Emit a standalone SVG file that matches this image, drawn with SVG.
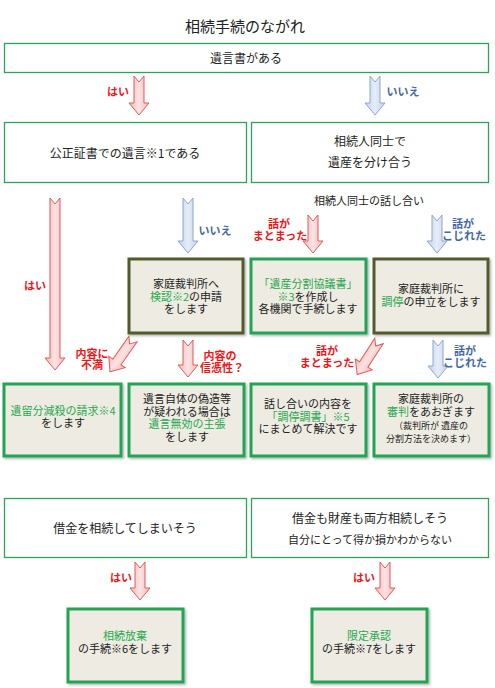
<svg xmlns="http://www.w3.org/2000/svg" width="495" height="688" viewBox="0 0 495 688">
<defs>
<linearGradient id="gr" x1="0" x2="1" y1="0" y2="0">
<stop offset="0" stop-color="#f5b9b9"/><stop offset="0.5" stop-color="#fbe3e3"/><stop offset="1" stop-color="#f5b9b9"/>
</linearGradient>
<linearGradient id="gb" x1="0" x2="1" y1="0" y2="0">
<stop offset="0" stop-color="#c4d3ea"/><stop offset="0.5" stop-color="#e6edf7"/><stop offset="1" stop-color="#c4d3ea"/>
</linearGradient>
<filter id="sh" x="-10%" y="-10%" width="130%" height="130%">
<feDropShadow dx="1.5" dy="1.5" stdDeviation="1.2" flood-color="#000" flood-opacity="0.3"/>
</filter>
</defs>
<style>
text{font-family:"Noto Sans CJK JP","Noto Sans CJK SC",sans-serif;fill:#222;text-anchor:middle;dominant-baseline:central}
.t15{font-size:15px}
.t12{font-size:12px}
.t11{font-size:11px}
.t9{font-size:9px}
.g{fill:#27a84f}
.lr{fill:#e8191b;font-weight:bold;font-size:11px}
.lb{fill:#4468a2;font-weight:bold;font-size:11px}
.box{fill:#fff;stroke:#2ba35a;stroke-width:1.3}
.bg{fill:#eeece2;stroke:#22a354;stroke-width:3;filter:url(#sh)}
.bo{fill:#eeece2;stroke:#515c2c;stroke-width:3;filter:url(#sh)}
.ar{fill:url(#gr);stroke:#e25a5a;stroke-width:1}
.ab{fill:url(#gb);stroke:#8ea7cc;stroke-width:1}
</style>
<rect width="495" height="688" fill="#fff"/>
<text class="t15" x="245" y="25">相続手続のながれ</text>

<g id="n1"><rect class="box" x="4.5" y="43.5" width="484" height="29"/><text class="t12" x="246" y="57">遺言書がある</text></g>
<g id="n2"><rect class="box" x="4.5" y="122.5" width="242" height="60"/><text class="t12" x="125" y="152">公正証書での遺言※1である</text></g>
<g id="n3"><rect class="box" x="251.5" y="122.5" width="237" height="60"/><text class="t12" x="370" y="140">相続人同士で</text><text class="t12" x="370" y="161">遺産を分け合う</text></g>
<text class="t11" x="369" y="200">相続人同士の話し合い</text>

<g id="n4"><rect class="bo" x="129" y="259" width="114" height="74"/>
<text class="t11" x="186" y="283">家庭裁判所へ</text>
<text class="t11" x="186" y="296"><tspan class="g">検認※2</tspan>の申請</text>
<text class="t11" x="186" y="308">をします</text></g>
<g id="n5"><rect class="bg" x="251" y="259" width="115" height="74"/>
<text class="t11 g" x="308" y="283">「遺産分割協議書」</text>
<text class="t11" x="308" y="296"><tspan class="g">※3</tspan>を作成し</text>
<text class="t11" x="308" y="308">各機関で手続します</text></g>
<g id="n6"><rect class="bo" x="374" y="259" width="114" height="74"/>
<text class="t11" x="431" y="288">家庭裁判所に</text>
<text class="t11" x="431" y="301"><tspan class="g">調停</tspan>の申立をします</text></g>

<g id="n7"><rect class="bg" x="4" y="384" width="117" height="72"/>
<text class="t11 g" x="63" y="410">遺留分減殺の請求※4</text>
<text class="t11" x="63" y="422">をします</text></g>
<g id="n8"><rect class="bg" x="129" y="384" width="115" height="72"/>
<text class="t11" x="187" y="398">遺言自体の偽造等</text>
<text class="t11" x="187" y="411">が疑われる場合は</text>
<text class="t11 g" x="187" y="423">遺言無効の主張</text>
<text class="t11" x="187" y="436">をします</text></g>
<g id="n9"><rect class="bg" x="251" y="384" width="115" height="72"/>
<text class="t11" x="308" y="403">話し合いの内容を</text>
<text class="t11 g" x="308" y="416">「調停調書」※5</text>
<text class="t11" x="308" y="428">にまとめて解決です</text></g>
<g id="n10"><rect class="bg" x="374" y="384" width="115" height="72"/>
<text class="t11" x="431" y="398">家庭裁判所の</text>
<text class="t11" x="431" y="411"><tspan class="g">審判</tspan>をあおぎます</text>
<text class="t9" x="431" y="425">（裁判所が 遺産の</text>
<text class="t9" x="431" y="438">分割方法を決めます）</text></g>

<g id="n11"><rect class="box" x="4.5" y="498.5" width="242" height="59"/><text class="t12" x="125" y="527">借金を相続してしまいそう</text></g>
<g id="n12"><rect class="box" x="251.5" y="498.5" width="237" height="59"/><text class="t12" x="370" y="517">借金も財産も両方相続しそう</text><text class="t11" x="370" y="539">自分にとって得か損かわからない</text></g>
<g id="n13"><rect class="bg" x="68" y="609" width="115" height="73"/>
<text class="t11 g" x="125" y="635">相続放棄</text>
<text class="t11" x="125" y="648">の手続※6をします</text></g>
<g id="n14"><rect class="bg" x="312" y="609" width="115" height="73"/>
<text class="t11 g" x="369" y="635">限定承認</text>
<text class="t11" x="369" y="648">の手続※7をします</text></g>

<g id="connectors">
<path class="ar" d="M134,76 L139,82 L144,76 L144,103 L149,103 L139,115 L129,103 L134,103 Z"/>
<text class="lr" x="118" y="91">はい</text>
<path class="ab" d="M370,76 L375,82 L380,76 L380,103 L385,103 L375,115 L365,103 L370,103 Z"/>
<text class="lb" x="403" y="91">いいえ</text>

<path class="ar" d="M50,198 L55,204 L60,198 L60,358 L65,358 L55,370 L45,358 L50,358 Z"/>
<text class="lr" x="35" y="285">はい</text>
<path class="ab" d="M183,198 L188,204 L193,198 L193,241 L198,241 L188,253 L178,241 L183,241 Z"/>
<text class="lb" x="215" y="230">いいえ</text>

<path class="ar" d="M308,215 L313,221 L318,215 L318,241 L323,241 L313,253 L303,241 L308,241 Z"/>
<text class="lr" x="279" y="223">話が</text><text class="lr" x="280" y="235">まとまった</text>
<path class="ab" d="M432,215 L437,221 L442,215 L442,241 L447,241 L437,253 L427,241 L432,241 Z"/>
<text class="lb" x="463" y="223">話が</text><text class="lb" x="464" y="235">こじれた</text>

<path class="ar" transform="translate(133,339) rotate(35)" d="M-5,0 L0,6 L5,0 L5,28 L10,28 L0,40 L-10,28 L-5,28 Z"/>
<text class="lr" x="92" y="353">内容に</text><text class="lr" x="92" y="364">不満</text>
<path class="ar" d="M183,340 L188,346 L193,340 L193,365 L198,365 L188,377 L178,365 L183,365 Z"/>
<text class="lr" x="220" y="355">内容の</text><text class="lr" x="222" y="367">信憑性？</text>

<path class="ar" transform="translate(379,341) rotate(33)" d="M-5,0 L0,6 L5,0 L5,28 L10,28 L0,40 L-10,28 L-5,28 Z"/>
<text class="lr" x="327" y="350">話が</text><text class="lr" x="327" y="362">まとまった</text>
<path class="ab" d="M433,340 L438,346 L443,340 L443,366 L448,366 L438,378 L428,366 L433,366 Z"/>
<text class="lb" x="465" y="350">話が</text><text class="lb" x="465" y="362">こじれた</text>

<path class="ar" d="M135,562 L140,568 L145,562 L145,588 L150,588 L140,600 L130,588 L135,588 Z"/>
<text class="lr" x="121" y="577">はい</text>
<path class="ar" d="M380,562 L385,568 L390,562 L390,588 L395,588 L385,600 L375,588 L380,588 Z"/>
<text class="lr" x="364" y="577">はい</text>
</g>
</svg>
